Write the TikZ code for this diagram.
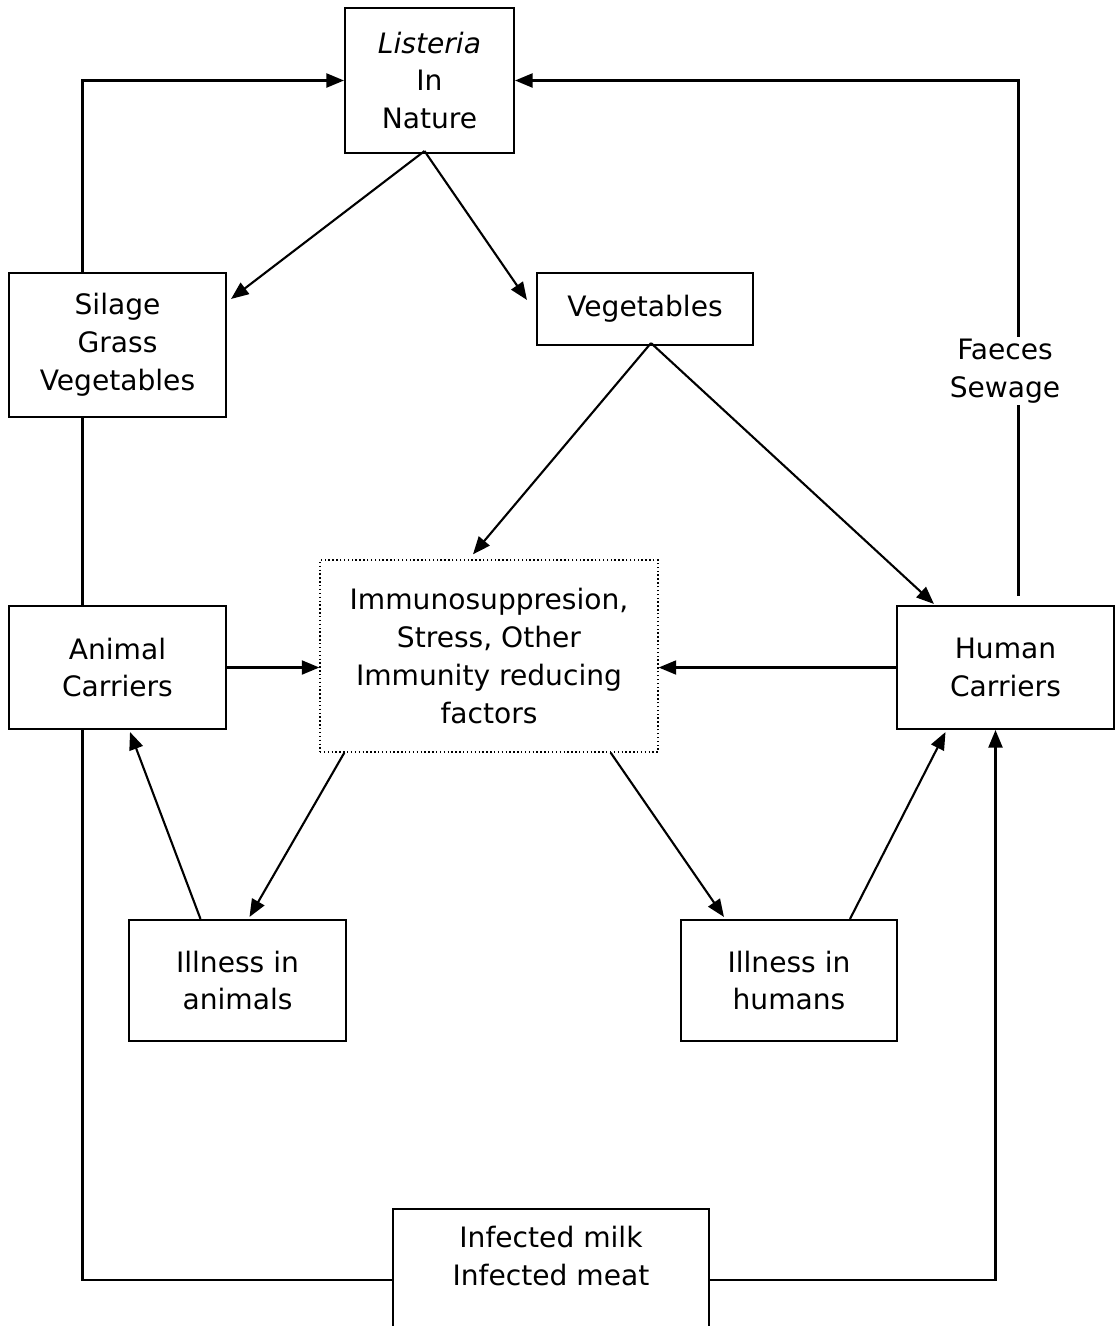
\documentclass[tikz,border=0pt]{standalone}
\usepackage{fontspec}
\setmainfont{DejaVu Sans}
\usetikzlibrary{arrows.meta,positioning,calc}

\begin{document}
\begin{tikzpicture}[
    x=0.02cm, y=-0.02cm,
    font=\fontsize{16}{21.5}\selectfont,
    box/.style={rectangle, draw, line width=1.2pt, align=center, inner sep=2pt},
    factorbox/.style={rectangle, draw, dash pattern=on 0.8pt off 1.4pt, line width=0.8pt, align=center, inner sep=2pt},
    arrow/.style={-{Triangle[length=10pt,width=8pt]}, line width=1.2pt},
    link/.style={line width=1.2pt}
]
\useasboundingbox (0,0) rectangle (1117,1326);
\clip (0,0) rectangle (1117,1326);

\node[box, minimum width=3.38cm, minimum height=2.9cm] (listeria) at (429.5,80.5) {\textit{Listeria}\\In\\Nature};
\node[box, minimum width=4.34cm, minimum height=2.88cm] (silage) at (117.5,345) {Silage\\Grass\\Vegetables};
\node[box, minimum width=4.32cm, minimum height=1.44cm] (veg) at (645,309) {Vegetables};
\node[factorbox, minimum width=6.76cm, minimum height=3.84cm] (immuno) at (489,656) {Immunosuppresion,\\Stress, Other\\Immunity reducing\\factors};
\node[box, minimum width=4.34cm, minimum height=2.46cm] (animal) at (117.5,667.5) {Animal\\Carriers};
\node[box, minimum width=4.34cm, minimum height=2.46cm] (human) at (1005.5,667.5) {Human\\Carriers};
\node[box, minimum width=4.34cm, minimum height=2.42cm] (illanimal) at (237.5,980.5) {Illness in\\animals};
\node[box, minimum width=4.32cm, minimum height=2.42cm] (illhuman) at (789,980.5) {Illness in\\humans};
\node[box, minimum width=6.32cm, inner ysep=10pt, text depth=3cm, anchor=north] (infected) at (551,1208) {Infected milk\\Infected meat};

% back to nature
\draw[arrow] ([shift={(-35,0)}]silage.north) |- (listeria.west);
\draw[arrow] ([shift={(13,-9)}]human.north) |- (listeria.east);
\node[fill=white, inner sep=1pt, align=center] (faeces) at (1005,371) {Faeces\\Sewage};

% out of nature
\draw[arrow] ([shift={(-5,-3)}]listeria.south) -- ([shift={(4,27)}]silage.north east);
\draw[arrow] ([shift={(-5,-3)}]listeria.south) -- ([shift={(-9,28)}]veg.north west);
\draw[arrow] ([shift={(6,-3)}]veg.south) -- ([shift={(-16,-5)}]immuno.north);
\draw[arrow] ([shift={(6,-3)}]veg.south) -- ([shift={(38,-1)}]human.north west);

% carriers and factors
\draw[arrow] (animal.east) -- (animal.east -| immuno.west);
\draw[arrow] (human.west) -- (human.west -| immuno.east);
\draw[arrow] ([shift={(25,0)}]immuno.south west) -- ([shift={(12,-2)}]illanimal.north);
\draw[arrow] ([shift={(-48,0)}]immuno.south east) -- ([shift={(44,-2)}]illhuman.north west);
\draw[arrow] ([shift={(-37,0)}]illanimal.north) -- ([shift={(12.5,2)}]animal.south);
\draw[arrow] ([shift={(61,0)}]illhuman.north) -- ([shift={(-60,2)}]human.south);

% food chain
\draw[link] ([shift={(-35,0)}]silage.south) -- ([shift={(-35,0)}]animal.north);
\draw[link] ([shift={(-35,0)}]animal.south) |- ([shift={(0,72)}]infected.north west);
\draw[arrow] ([shift={(0,72)}]infected.north east) -| ([shift={(-10,0)}]human.south);

\end{tikzpicture}
\end{document}
